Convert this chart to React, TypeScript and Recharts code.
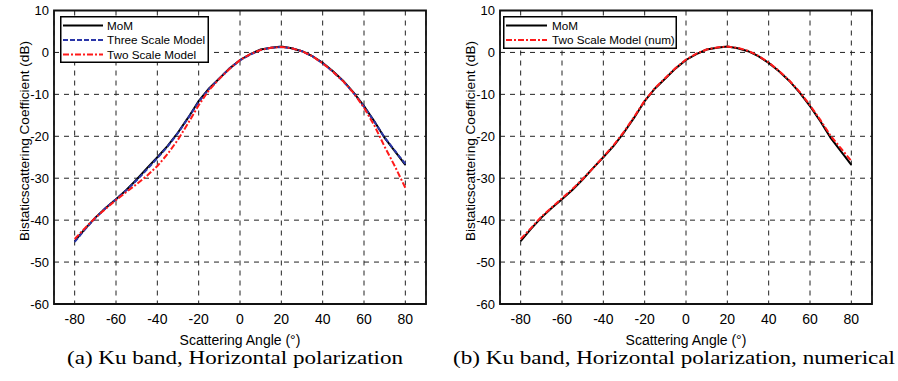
import React from 'react';
import { LineChart, Line, XAxis, YAxis, CartesianGrid, ReferenceArea, Legend, Label } from 'recharts';

const ANGLES = [-80, -75, -70, -65, -60, -55, -50, -45, -40, -35, -30, -25, -20, -15, -10, -5, 0, 5, 10, 15, 20, 25, 30, 35, 40, 45, 50, 55, 60, 65, 70, 75, 80];
const MOM = [-45.0, -42.1, -39.4, -37.1, -35.0, -32.8, -30.3, -27.6, -25.0, -22.3, -19.1, -15.5, -11.6, -8.6, -6.2, -3.8, -1.8, -0.4, 0.7, 1.1, 1.4, 1.0, 0.3, -0.9, -2.5, -4.5, -6.8, -9.6, -12.8, -16.4, -20.4, -23.6, -26.8];
const THREE_SCALE = [-45.2, -42.2, -39.5, -37.1, -35.0, -32.9, -30.5, -27.9, -25.2, -22.4, -19.2, -15.6, -11.8, -8.7, -6.2, -3.8, -1.9, -0.5, 0.6, 1.1, 1.3, 1.0, 0.3, -0.9, -2.6, -4.6, -6.9, -9.7, -12.9, -16.5, -20.3, -23.5, -26.6];
const TWO_SCALE = [-44.5, -41.9, -39.4, -37.3, -35.2, -33.3, -31.4, -29.4, -27.1, -24.2, -20.8, -16.8, -12.6, -9.0, -6.3, -3.9, -1.8, -0.4, 0.6, 1.1, 1.3, 1.0, 0.3, -0.9, -2.6, -4.6, -6.9, -9.7, -13.2, -17.4, -22.5, -27.2, -32.3];
const TWO_SCALE_NUM = [-44.5, -41.9, -39.2, -37.0, -34.8, -32.6, -30.2, -27.6, -24.9, -22.1, -18.9, -15.3, -11.5, -8.5, -6.1, -3.7, -1.7, -0.3, 0.7, 1.2, 1.4, 1.1, 0.4, -0.8, -2.4, -4.4, -6.7, -9.4, -12.6, -16.1, -19.9, -22.9, -25.9];

const X_TICKS = [-80, -60, -40, -20, 0, 20, 40, 60, 80];
const Y_TICKS = [-60, -50, -40, -30, -20, -10, 0, 10];

const X_TITLE = 'Scattering Angle (°)';
const Y_TITLE = 'Bistaticscattering Coefficient (dB)';
const CAPTION_A = '(a) Ku band, Horizontal polarization';
const CAPTION_B = '(b) Ku band, Horizontal polarization, numerical';

const FONT = '"Liberation Sans", Arial, Helvetica, sans-serif';

type Series = { key: string; name: string; color: string; dash?: string; width: number };

const SERIES_A: Series[] = [
  { key: 'mom', name: 'MoM', color: '#000000', width: 2 },
  { key: 'three', name: 'Three Scale Model', color: '#2a36a8', dash: '5 2', width: 2 },
  { key: 'two', name: 'Two Scale Model', color: '#ff1a1a', dash: '6 2 2 2', width: 2 },
];
const SERIES_B: Series[] = [
  { key: 'mom', name: 'MoM', color: '#000000', width: 2 },
  { key: 'two', name: 'Two Scale Model (num)', color: '#ff1a1a', dash: '6 2 2 2', width: 2 },
];

const DATA_A = ANGLES.map((a, i) => ({ angle: a, mom: MOM[i], three: THREE_SCALE[i], two: TWO_SCALE[i] }));
const DATA_B = ANGLES.map((a, i) => ({ angle: a, mom: MOM[i], two: TWO_SCALE_NUM[i] }));

function LegendBox({ series, width, height, lineX1, lineX2, textX }: { series: Series[]; width: number; height: number; lineX1: number; lineX2: number; textX: number }) {
  return (
    <svg width={width} height={height} style={{ display: 'block' }}>
      <rect x={0.75} y={0.75} width={width - 1.5} height={height - 1.5} fill="#fff" stroke="#000" strokeWidth={1.5} />
      {series.map((s, i) => {
        const y = 9.5 + 14.5 * i;
        return (
          <g key={s.key}>
            <line x1={lineX1} x2={lineX2} y1={y} y2={y} stroke={s.color} strokeWidth={2} strokeDasharray={s.dash} />
            <text x={textX} y={y + 4.2} fontSize={11.7} fontFamily={FONT} fill="#000">{s.name}</text>
          </g>
        );
      })}
    </svg>
  );
}

function Panel({ left, data, series, legendLeft, legendW, legendH, lineX1, lineX2, textX }: { left: number; data: any[]; series: Series[]; legendLeft: number; legendW: number; legendH: number; lineX1: number; lineX2: number; textX: number }) {
  return (
    <div style={{ position: 'absolute', left, top: 0 }}>
      <LineChart width={440} height={381} data={data} margin={{ top: 10.5, right: 14, bottom: 27, left: 14 }}>
        <CartesianGrid stroke="#222" strokeDasharray="5 5" strokeWidth={1} />
        <XAxis
          dataKey="angle"
          type="number"
          domain={[-90, 90]}
          ticks={X_TICKS}
          allowDataOverflow
          tickLine={false}
          axisLine={false}
          tickSize={0}
          tickMargin={10}
          height={50}
          tick={{ fill: '#000', fontSize: 14, fontFamily: FONT }}
        >
          <Label
            content={(props: any) => {
              const vb = props.viewBox || {};
              return (
                <text x={vb.x + vb.width / 2} y={vb.y + 41} textAnchor="middle" fontSize={14} fontFamily={FONT} fill="#000">
                  {X_TITLE}
                </text>
              );
            }}
          />
        </XAxis>
        <YAxis
          type="number"
          domain={[-60, 10]}
          ticks={Y_TICKS}
          allowDataOverflow
          width={40}
          tickLine={false}
          axisLine={false}
          tickSize={0}
          tickMargin={5}
          tick={{ fill: '#000', fontSize: 13, fontFamily: FONT }}
        >
          <Label
            content={() => {
              const cx = 29;
              const cy = 141;
              return (
                <text x={cx} y={cy} transform={`rotate(-90 ${cx} ${cy})`} textAnchor="middle" fontSize={13.6} fontFamily={FONT} fill="#000">
                  {Y_TITLE}
                </text>
              );
            }}
          />
        </YAxis>
        <ReferenceArea x1={-90} x2={90} y1={-60} y2={10} fill="none" fillOpacity={0} stroke="#111" strokeWidth={1.8} />
        {series.map((s) => (
          <Line
            key={s.key}
            type="linear"
            dataKey={s.key}
            name={s.name}
            stroke={s.color}
            strokeWidth={s.width}
            strokeDasharray={s.dash}
            dot={false}
            isAnimationActive={false}
          />
        ))}
        <Legend
          layout="horizontal"
          verticalAlign="middle"
          align="center"
          wrapperStyle={{ position: 'absolute', left: legendLeft, top: 16, width: legendW, height: legendH }}
          content={() => <LegendBox series={series} width={legendW} height={legendH} lineX1={lineX1} lineX2={lineX2} textX={textX} />}
        />
      </LineChart>
    </div>
  );
}

export default function App() {
  return (
    <div style={{ position: 'fixed', left: 0, top: 0, width: 898, height: 381, background: '#fff', overflow: 'hidden' }}>
      <Panel left={0} data={DATA_A} series={SERIES_A} legendLeft={60} legendW={149} legendH={47} lineX1={3} lineX2={43} textX={47} />
      <Panel left={446} data={DATA_B} series={SERIES_B} legendLeft={57} legendW={174} legendH={33} lineX1={3} lineX2={44} textX={49} />
      <svg width={898} height={381} style={{ position: 'absolute', left: 0, top: 0, pointerEvents: 'none' }}>
        <text x={67} y={364} fontSize={19} fontFamily='"Liberation Serif", "Times New Roman", serif' fill="#000" textLength={336} lengthAdjust="spacingAndGlyphs">
          {CAPTION_A}
        </text>
        <text x={453} y={364} fontSize={19} fontFamily='"Liberation Serif", "Times New Roman", serif' fill="#000" textLength={442} lengthAdjust="spacingAndGlyphs">
          {CAPTION_B}
        </text>
      </svg>
    </div>
  );
}
